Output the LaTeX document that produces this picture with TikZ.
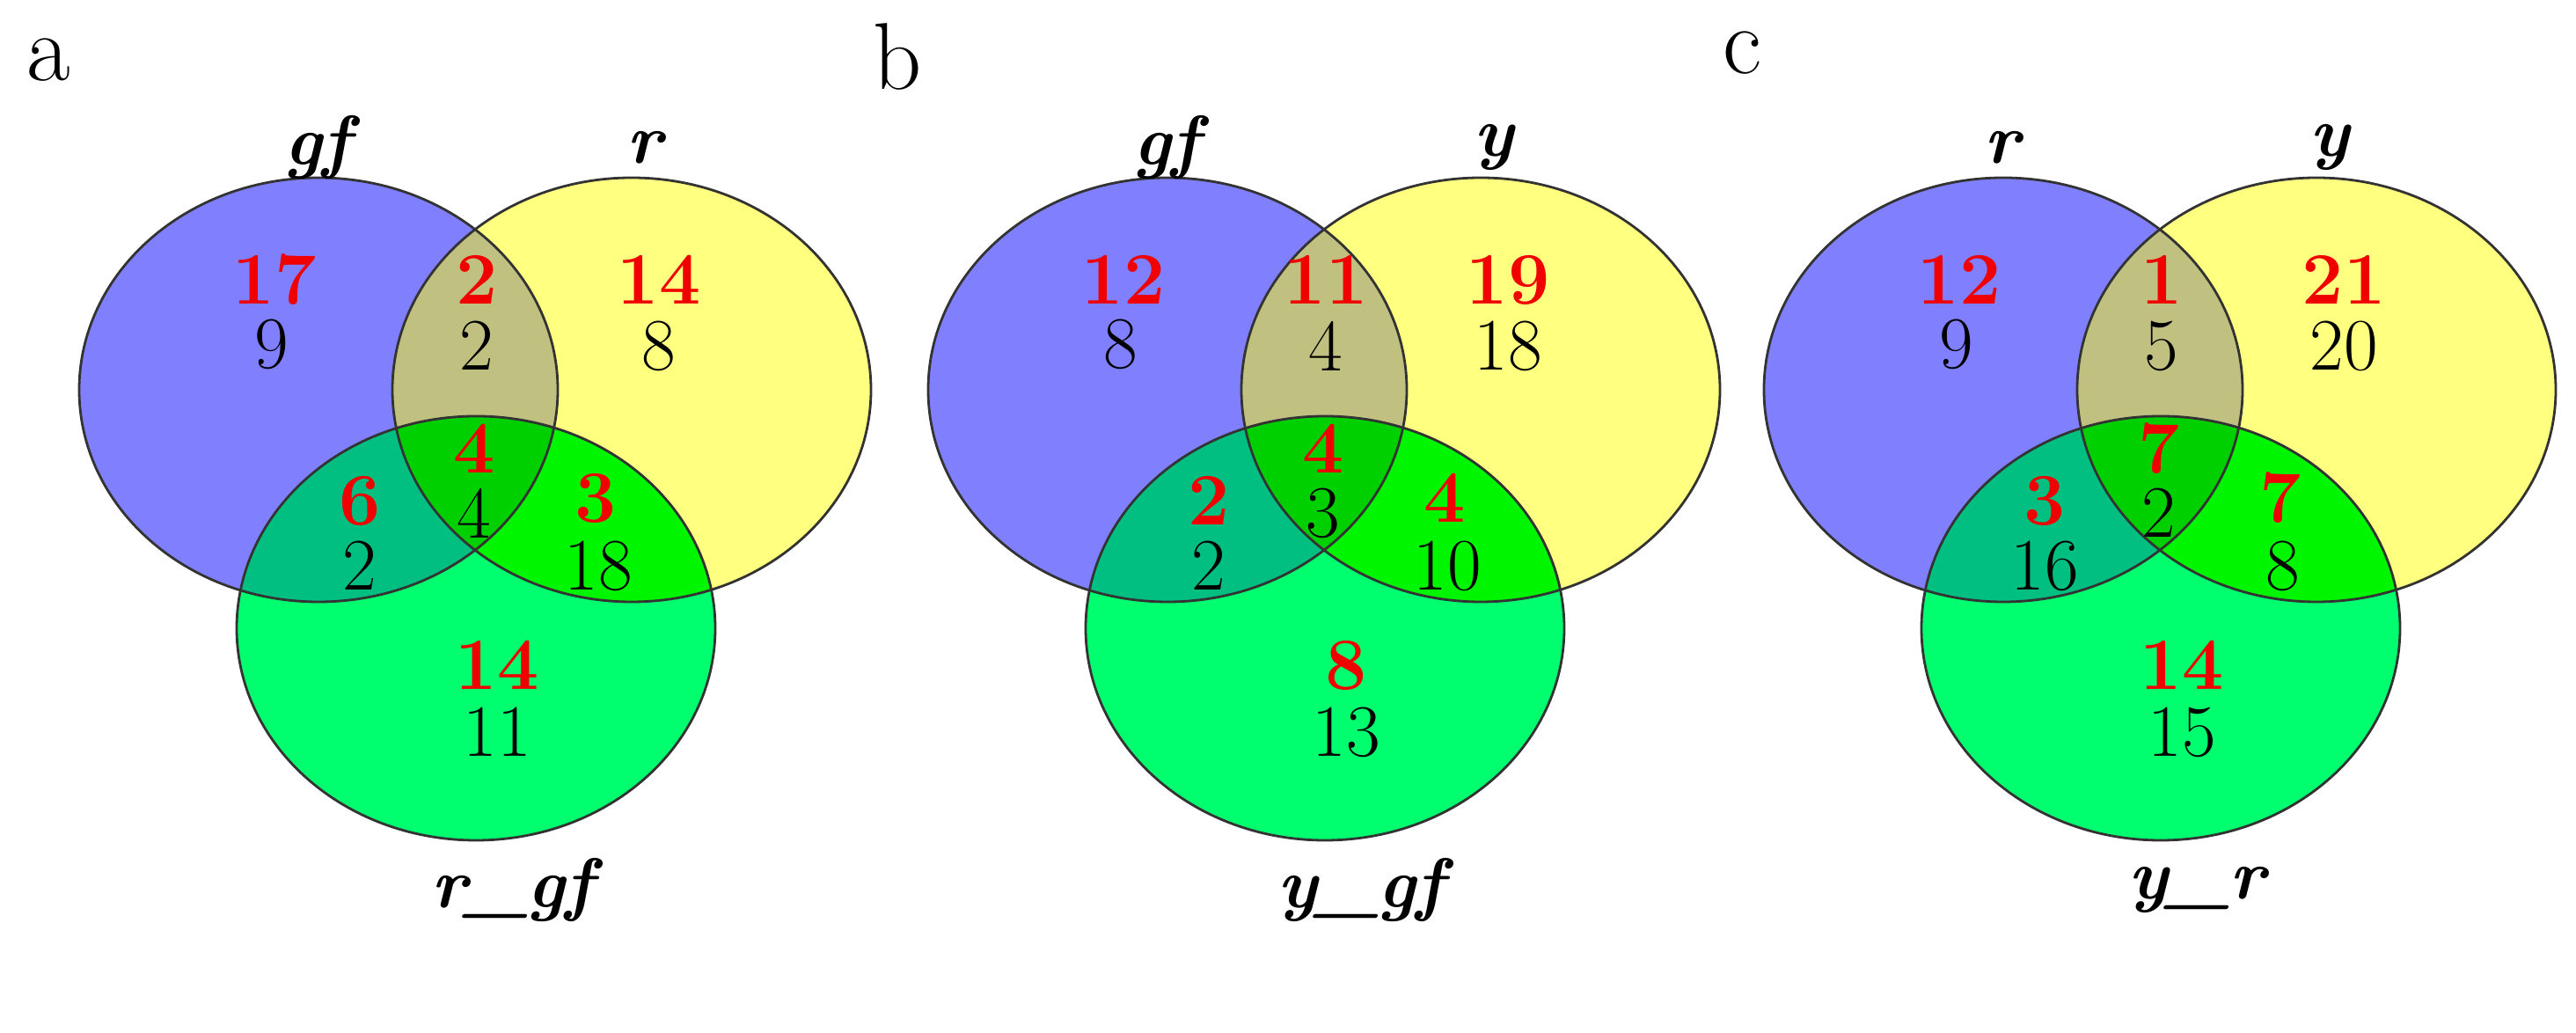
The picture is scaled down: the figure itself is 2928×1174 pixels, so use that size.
\documentclass[tikz,border=0pt]{standalone}
\begin{document}
\definecolor{cB}{HTML}{8080FF}\definecolor{cY}{HTML}{FFFF80}\definecolor{cG}{HTML}{00FF6E}
\definecolor{cBY}{HTML}{C0C080}\definecolor{cBG}{HTML}{00BF80}\definecolor{cYG}{HTML}{00F500}\definecolor{cBYG}{HTML}{00D000}
\definecolor{nred}{HTML}{F00000}
\newcommand\vennshapes{%
  \fill[cB] (362,443) ellipse (272 and 241);
  \fill[cY] (718,443) ellipse (272 and 241);
  \fill[cG] (541,714) ellipse (272 and 241);
  \begin{scope}\clip (362,443) ellipse (272 and 241); \fill[cBY] (718,443) ellipse (272 and 241); \fill[cBG] (541,714) ellipse (272 and 241);\end{scope}
  \begin{scope}\clip (718,443) ellipse (272 and 241); \fill[cYG] (541,714) ellipse (272 and 241);\end{scope}
  \begin{scope}\clip (362,443) ellipse (272 and 241); \clip (718,443) ellipse (272 and 241); \fill[cBYG] (541,714) ellipse (272 and 241);\end{scope}
  \draw[edge] (362,443) ellipse (272 and 241);
  \draw[edge] (718,443) ellipse (272 and 241);
  \draw[edge] (541,714) ellipse (272 and 241);}
\begin{tikzpicture}[x=0.25pt,y=-0.25pt,
  edge/.style={draw=black!80,line width=0.7pt},
  rn/.style={inner sep=0pt,text=nred,font=\fontsize{21}{24}\selectfont\bfseries},
  bn/.style={inner sep=0pt,text=black,font=\fontsize{21}{24}\selectfont},
  set/.style={inner sep=0pt,font=\fontsize{20}{24}\selectfont\bfseries\itshape},
  pl/.style={inner sep=0pt,font=\fontsize{27}{30}\selectfont}]
\useasboundingbox (0,0) rectangle (2928,1174);
\fill[white] (0,0) rectangle (2928,1174);
% panel a
\begin{scope}
\vennshapes
\node[pl] (pa) at (55,68) {a};
\node[set] (a1) at (361,168) {gf};
\node[set] (a2) at (733,168) {r};
\node[set] (a3) at (582,1012) {r\_gf};
\node[rn] (ar1) at (312,318) {17}; \node[bn] (ab1) at (309,391) {9};
\node[rn] (ar2) at (542,318) {2};  \node[bn] (ab2) at (542,393) {2};
\node[rn] (ar3) at (749,318) {14}; \node[bn] (ab3) at (749,393) {8};
\node[rn] (ar4) at (539,510) {4};  \node[bn] (ab4) at (539,583) {4};
\node[rn] (ar5) at (409,569) {6};  \node[bn] (ab5) at (409,643) {2};
\node[rn] (ar6) at (677,566) {3};  \node[bn] (ab6) at (680,643) {18};
\node[rn] (ar7) at (565,756) {14}; \node[bn] (ab7) at (565,832) {11};
\end{scope}
% panel b
\begin{scope}[xshift=965*0.25pt]
\vennshapes
\node[pl] (pb) at (55,64) {b};
\node[set] (b1) at (361,168) {gf};
\node[set] (b2) at (733,168) {y};
\node[set] (b3) at (582,1012) {y\_gf};
\node[rn] (br1) at (312,318) {12}; \node[bn] (bb1) at (309,391) {8};
\node[rn] (br2) at (542,318) {11}; \node[bn] (bb2) at (542,393) {4};
\node[rn] (br3) at (749,318) {19}; \node[bn] (bb3) at (749,393) {18};
\node[rn] (br4) at (539,510) {4};  \node[bn] (bb4) at (539,583) {3};
\node[rn] (br5) at (409,569) {2};  \node[bn] (bb5) at (409,643) {2};
\node[rn] (br6) at (677,566) {4};  \node[bn] (bb6) at (680,643) {10};
\node[rn] (br7) at (565,756) {8};  \node[bn] (bb7) at (565,832) {13};
\end{scope}
% panel c
\begin{scope}[xshift=1915*0.25pt]
\vennshapes
\node[pl] (pc) at (65,60) {c};
\node[set] (c1) at (361,168) {r};
\node[set] (c2) at (733,168) {y};
\node[set] (c3) at (582,1012) {y\_r};
\node[rn] (cr1) at (312,318) {12}; \node[bn] (cb1) at (309,391) {9};
\node[rn] (cr2) at (542,318) {1};  \node[bn] (cb2) at (542,393) {5};
\node[rn] (cr3) at (749,318) {21}; \node[bn] (cb3) at (749,393) {20};
\node[rn] (cr4) at (539,510) {7};  \node[bn] (cb4) at (539,583) {2};
\node[rn] (cr5) at (409,569) {3};  \node[bn] (cb5) at (409,643) {16};
\node[rn] (cr6) at (677,566) {7};  \node[bn] (cb6) at (680,643) {8};
\node[rn] (cr7) at (565,756) {14}; \node[bn] (cb7) at (565,832) {15};
\end{scope}
\end{tikzpicture}
\end{document}
